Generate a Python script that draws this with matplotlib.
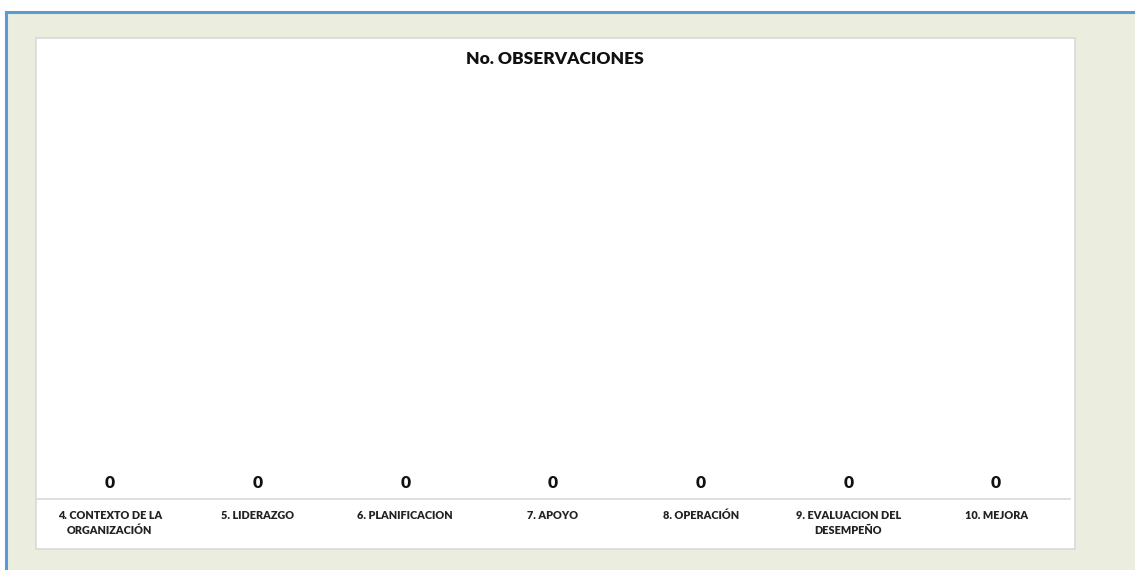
import matplotlib
matplotlib.use("Agg")
import matplotlib.pyplot as plt
from matplotlib.patches import Rectangle
from matplotlib.lines import Line2D

categories = ["4. CONTEXTO DE LA\nORGANIZACIÓN", "5. LIDERAZGO", "6. PLANIFICACION",
              "7. APOYO", "8. OPERACIÓN", "9. EVALUACION DEL\nDESEMPEÑO", "10. MEJORA"]
values = [0, 0, 0, 0, 0, 0, 0]
title = "No. OBSERVACIONES"

W, H = 1135, 570
plt.rcParams['font.family'] = ['Lato', 'DejaVu Sans']
fig = plt.figure(figsize=(W / 100, H / 100), dpi=100, facecolor="white")

def fx(px):
    return px / W

def fy(py):
    return 1 - py / H

# beige background
fig.patches.append(Rectangle((fx(6), 0), 1 - fx(6), fy(12), transform=fig.transFigure,
                             facecolor="#EBEEDF", edgecolor="none", zorder=0))
# blue frame lines
fig.lines.append(Line2D([fx(6), 1], [fy(12), fy(12)], transform=fig.transFigure,
                        color="#5B9BD5", linewidth=2.2, zorder=1))
fig.lines.append(Line2D([fx(6), fx(6)], [0, fy(12)], transform=fig.transFigure,
                        color="#5B9BD5", linewidth=2.2, zorder=1))
# white chart panel
fig.patches.append(Rectangle((fx(36), fy(549)), fx(1075 - 36), (549 - 38) / H,
                             transform=fig.transFigure, facecolor="white",
                             edgecolor="#D9D9D9", linewidth=1.2, zorder=1))

ax = fig.add_axes([fx(36), fy(499), fx(1070 - 36), (499 - 80) / H])
ax.set_zorder(3)
ax.set_facecolor("none")
x = list(range(len(categories)))
bars = ax.bar(x, values, width=0.6, color="#5B9BD5")
ax.set_xlim(-0.5, len(categories) - 0.5)
ax.set_ylim(0, 1)
for xi, v in zip(x, values):
    ax.annotate(str(v), (xi, v), xytext=(0, 6), textcoords="offset points",
                ha="center", va="bottom", fontsize=12.5, fontweight="heavy", color="#111111")
ax.set_xticks(x)
ax.set_xticklabels(categories, fontsize=7.8, fontweight="heavy", color="#222222", linespacing=1.4)
ax.tick_params(axis="x", length=0, pad=8)
ax.set_yticks([])
for s in ["top", "right", "left"]:
    ax.spines[s].set_visible(False)
ax.spines["bottom"].set_color("#D9D9D9")
ax.spines["bottom"].set_linewidth(1.2)

fig.text(fx(555), fy(59), title, ha="center", va="center", fontsize=12.5,
         fontweight="heavy", color="#111111", zorder=4)

fig.savefig("out.png", dpi=100, facecolor=fig.get_facecolor())
